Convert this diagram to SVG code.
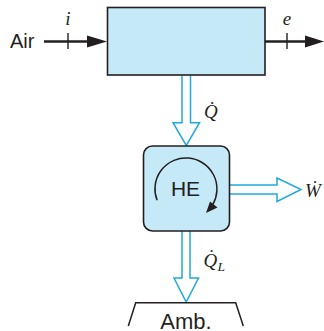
<svg xmlns="http://www.w3.org/2000/svg" width="324" height="331" viewBox="0 0 324 331">
<style>
.box{fill:#c6e9f8;stroke:#231f20;stroke-width:1.6}
.flow{stroke:#231f20;stroke-width:2.6;fill:none}
.tick{stroke:#231f20;stroke-width:1.4}
.head{fill:#231f20}
.heat{fill:#ffffff;stroke:#1fa9e1;stroke-width:1.5;stroke-linejoin:miter}
.sans{font-family:"Liberation Sans",Arial,sans-serif;fill:#231f20}
.ital{font-family:"Liberation Serif","Times New Roman",serif;font-style:italic;fill:#231f20}
.thin{stroke:#231f20;stroke-width:1.5;fill:none}
</style>
<rect width="324" height="331" fill="#ffffff"/>
<g id="connectors">
  <line class="flow" x1="44" y1="41.5" x2="89" y2="41.5"/>
  <polygon class="head" points="87,35.5 107,41.5 87,47.5"/>
  <line class="tick" x1="68" y1="33" x2="68" y2="49"/>
  <line class="flow" x1="265" y1="41.5" x2="307" y2="41.5"/>
  <polygon class="head" points="305,35.5 324,41.5 305,47.5"/>
  <line class="tick" x1="287" y1="33" x2="287" y2="49"/>
  <path class="heat" d="M182,75.5 V122.7 H173 L186.3,145.5 L199.5,122.7 H190.5 V75.5"/>
  <path class="heat" d="M229.5,185 H277 V178 L301,189.5 L277,201.5 V194 H229.5"/>
  <path class="heat" d="M182,231 V278 H174 L186.2,302 L198.5,278 H190 V231"/>
</g>
<g id="process">
  <rect class="box" x="107.5" y="7.5" width="157.5" height="67.5"/>
</g>
<g id="heat-engine">
  <rect class="box" x="143.5" y="146" width="86" height="85" rx="9"/>
  <path class="thin" d="M157.1,200.3 A31,31 0 1 1 212.8,204.5"/>
  <polygon class="head" points="206,213 210,201.5 217.5,207.5"/>
  <text class="sans" x="185.5" y="195.5" font-size="21" text-anchor="middle">HE</text>
</g>
<g id="ambient">
  <polyline class="thin" points="128.3,326 135.7,302.7 235.7,302.7 243.3,326"/>
  <text class="sans" x="186" y="329" font-size="22" text-anchor="middle">Amb.</text>
</g>
<g id="labels">
  <text class="sans" x="10" y="48.3" font-size="20">Air</text>
  <text class="ital" x="68" y="24.5" font-size="19" text-anchor="middle">i</text>
  <text class="ital" x="287" y="24.5" font-size="19" text-anchor="middle">e</text>
  <text class="ital" x="204" y="118.3" font-size="19">Q̇</text>
  <text class="ital" x="305" y="197.3" font-size="19">Ẇ</text>
  <text class="ital" x="203.5" y="266.5" font-size="19">Q̇<tspan x="217.5" y="270.5" font-size="13.5">L</tspan></text>
</g>
</svg>
